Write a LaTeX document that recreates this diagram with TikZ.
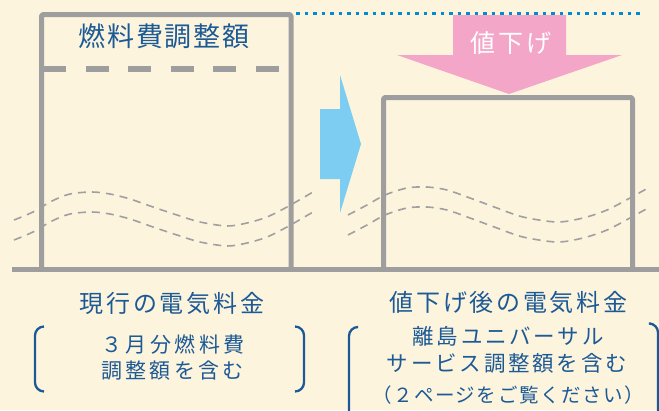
\documentclass[tikz,border=0pt]{standalone}
\usepackage{fontspec}
\newfontfamily\jpfont{Noto Sans CJK JP}
\definecolor{bgc}{RGB}{253,244,222}
\definecolor{grayc}{RGB}{158,158,158}
\definecolor{wavec}{RGB}{160,160,160}
\definecolor{bluet}{RGB}{28,90,150}
\definecolor{dotc}{RGB}{0,140,210}
\definecolor{pinkc}{RGB}{243,166,199}
\definecolor{skyc}{RGB}{125,205,242}
\newcommand{\jpt}[3]{{\jpfont\addfontfeature{LetterSpace=#2}\fontsize{#1}{#1}\selectfont #3}}
\tikzset{
  frame/.style={draw=grayc, line width=5pt, line join=round, rounded corners=1.5pt},
  wave/.style={draw=wavec, line width=1.6pt, dash pattern=on 8pt off 6pt},
  bracket/.style={draw=bluet, line width=2.3pt, rounded corners=9pt},
  lbl/.style={text=bluet, inner sep=0pt, align=center}
}
\begin{document}
\begin{tikzpicture}[x=1pt,y=-1pt]
\clip (0,0) rectangle (659,410);
\fill[bgc] (0,0) rectangle (659,410);
% waves
\draw[wave] plot[smooth] coordinates {(14,220) (33,212) (52,201) (70,194) (92,192) (110,194) (130,199) (153,207) (177,215) (200,222) (227,226) (247,223) (267,217) (287,207) (313,192)};
\draw[wave] plot[smooth] coordinates {(14,240) (33,232) (52,221) (70,214) (92,212) (110,214) (130,219) (153,227) (177,235) (200,242) (227,246) (247,243) (267,237) (287,227) (313,212)};
\draw[wave] plot[smooth] coordinates {(348,215) (367,205) (385,195) (407,188) (427,187) (447,190) (470,198) (497,208) (523,217) (557,222) (583,218) (607,210) (630,198) (648,188)};
\draw[wave] plot[smooth] coordinates {(348,235) (367,225) (385,215) (407,208) (427,207) (447,210) (470,218) (497,228) (523,237) (557,242) (583,238) (607,230) (630,218) (648,208)};
% blue dotted line
\draw[dotc, line width=3.5pt, dash pattern=on 3.5pt off 5pt] (296,13.3) -- (640,13.3);
% pink arrow
\fill[pinkc] (453,15) -- (566,15) -- (566,55) -- (622,55) -- (509,94) -- (397,55) -- (453,55) -- cycle;
% blue arrow
\fill[skyc] (320,109) -- (340,109) -- (340,75) -- (361,144) -- (340,213) -- (340,179) -- (320,179) -- cycle;
% boxes
\draw[frame] (41.5,269.5) -- (41.5,14.5) -- (291,14.5) -- (291,269.5);
\draw[frame] (383.5,269.5) -- (383.5,97.5) -- (632.5,97.5) -- (632.5,269.5);
\draw[grayc, line width=5.3pt, dash pattern=on 23pt off 19.5pt] (43,69) -- (280,69);
\draw[grayc, line width=4.5pt] (12,269.5) -- (659,269.5);
% brackets
\draw[bracket] (44,326.5) -- (35,326.5) -- (35,391.5) -- (44,391.5);
\draw[bracket] (295,326.5) -- (304,326.5) -- (304,391.5) -- (295,391.5);
\draw[bracket] (357,327) -- (349,327) -- (349,430) -- (357,430);
\draw[bracket] (651,323.5) -- (658,323.5) -- (658,430);
% texts
\node[lbl] (t1) at (164,36) {\jpt{27}{7}{燃料費調整額}};
\node[lbl, text=white] (t2) at (511,43) {\jpt{25}{13}{値下げ}};
\node[lbl] (t3) at (172,303.5) {\jpt{24}{12}{現行の電気料金}};
\node[lbl] (t4) at (173,345) {\jpt{21}{16}{３月分燃料費}};
\node[lbl] (t5) at (172.5,371) {\jpt{21}{16}{調整額を含む}};
\node[lbl] (t6) at (508.5,302.5) {\jpt{24}{11}{値下げ後の電気料金}};
\node[lbl] (t7) at (508,336.5) {\jpt{21.5}{13}{離島ユニバーサル}};
\node[lbl] (t8) at (507,363) {\jpt{21.5}{13}{サービス調整額を含む}};
\node[lbl] (t9) at (508,395) {\jpt{19.5}{8}{（２ページをご覧ください）}};
\end{tikzpicture}
\end{document}
